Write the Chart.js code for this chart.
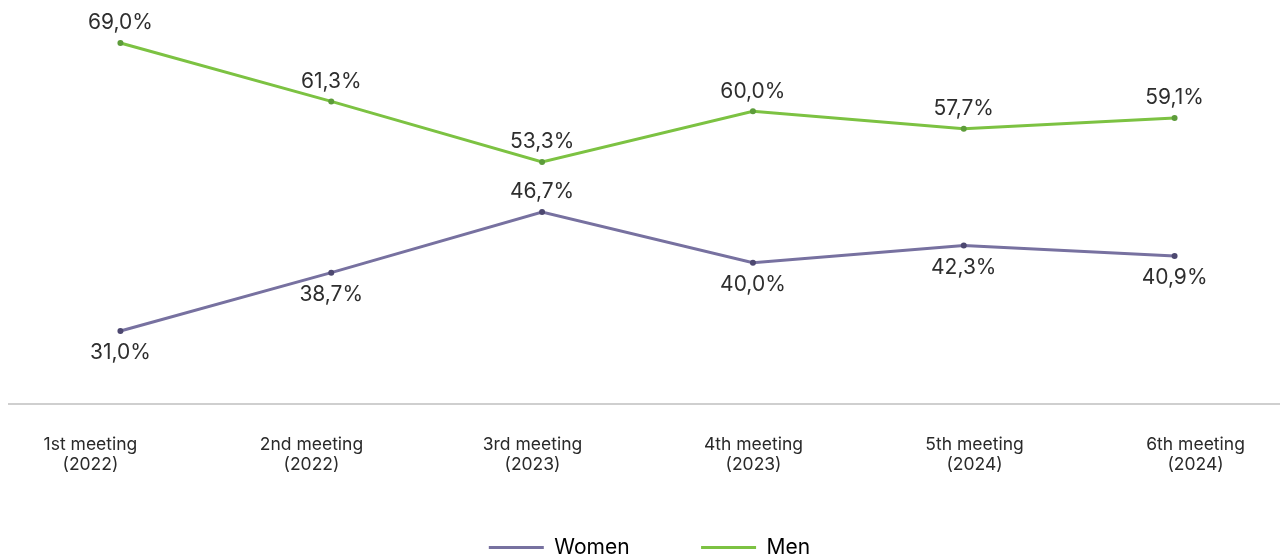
<!DOCTYPE html>
<html>
<head>
<meta charset="utf-8">
<script src="https://cdn.jsdelivr.net/npm/chart.js@4/dist/chart.umd.min.js"></script>
<style>
  html, body { margin: 0; padding: 0; background: #fff; overflow: hidden; }
  #wrap { position: relative; width: 1284px; height: 568px; }
</style>
</head>
<body>
<div id="wrap"><canvas id="chart"></canvas></div>
<script>
const meetings = [
    ['1st meeting', '(2022)'],
    ['2nd meeting', '(2022)'],
    ['3rd meeting', '(2023)'],
    ['4th meeting', '(2023)'],
    ['5th meeting', '(2024)'],
    ['6th meeting', '(2024)']
];
const women = [31.0, 38.7, 46.7, 40.0, 42.3, 40.9];
const men = [69.0, 61.3, 53.3, 60.0, 57.7, 59.1];
// which women labels sit above the point instead of below
const womenLabelAbove = [false, false, true, false, false, false];

const greenLine = '#7cc242';
const greenDot = '#5d9c3a';
const purpleLine = '#7771a0';
const purpleDot = '#4d4870';

function fmt(v) {
    return v.toFixed(1).replace('.', ',') + '%';
}

// draws value labels next to each point and the grey baseline
const valueLabels = {
    id: 'valueLabels',
    afterDatasetsDraw(chart) {
        const ctx = chart.ctx;
        const area = chart.chartArea;
        ctx.save();
        ctx.strokeStyle = '#cfcfcf';
        ctx.lineWidth = 2;
        ctx.beginPath();
        ctx.moveTo(8, area.bottom);
        ctx.lineTo(chart.width, area.bottom);
        ctx.stroke();

        ctx.font = '400 21px Inter';
        ctx.fillStyle = '#2e2e2e';
        ctx.textAlign = 'center';
        ctx.textBaseline = 'middle';
        chart.data.datasets.forEach((ds, di) => {
            const meta = chart.getDatasetMeta(di);
            meta.data.forEach((pt, i) => {
                let above = di === 1 ? true : womenLabelAbove[i];
                const y = above ? pt.y - 20 : pt.y + 22;
                ctx.fillText(fmt(ds.data[i]), pt.x, y);
            });
        });
        ctx.restore();
    }
};

new Chart(document.getElementById('chart'), {
    type: 'line',
    data: {
        labels: meetings,
        datasets: [
            {
                label: 'Women',
                data: women,
                borderColor: purpleLine,
                backgroundColor: purpleLine,
                borderWidth: 3,
                pointRadius: 3,
                pointBackgroundColor: purpleDot,
                pointBorderWidth: 0,
                tension: 0
            },
            {
                label: 'Men',
                data: men,
                borderColor: greenLine,
                backgroundColor: greenLine,
                borderWidth: 3,
                pointRadius: 3,
                pointBackgroundColor: greenDot,
                pointBorderWidth: 0,
                tension: 0
            }
        ]
    },
    options: {
        responsive: true,
        maintainAspectRatio: false,
        animation: false,
        layout: { padding: { left: 15, right: 0, top: 10, bottom: 0 } },
        scales: {
            x: {
                display: false,
                offset: true
            },
            // the category text sits on its own, slightly wider, spacing
            xLabels: {
                type: 'linear',
                position: 'bottom',
                min: -0.3413,
                max: 5.382,
                grid: { display: false, drawTicks: false },
                border: { display: false },
                // chart.js reserves the tick padding twice; keep only what the text needs
                afterFit(scale) { scale.height = 72; },
                ticks: {
                    stepSize: 1,
                    includeBounds: false,
                    autoSkip: false,
                    maxRotation: 0,
                    padding: 31,
                    color: '#2a2a2a',
                    font: { family: 'Inter', size: 17.5, lineHeight: 1.15 },
                    callback: v => Number.isInteger(v) ? meetings[v] : null
                }
            },
            y: {
                display: false,
                min: 21.37,
                max: 73.36
            }
        },
        plugins: {
            legend: {
                position: 'bottom',
                labels: {
                    color: '#2e2e2e',
                    font: { family: 'Inter', size: 21 },
                    boxWidth: 55,
                    boxHeight: 3,
                    padding: 61,
                    generateLabels(chart) {
                        const n = chart.data.datasets.length;
                        return chart.data.datasets.map((ds, i) => ({
                            // en space widens the gap between the two items
                            text: i < n - 1 ? ds.label + '\u2002' : ds.label,
                            fillStyle: ds.borderColor,
                            strokeStyle: ds.borderColor,
                            lineWidth: 0,
                            datasetIndex: i,
                            hidden: !chart.isDatasetVisible(i)
                        }));
                    }
                }
            },
            tooltip: { enabled: false }
        }
    },
    plugins: [valueLabels]
});
</script>
</body>
</html>
